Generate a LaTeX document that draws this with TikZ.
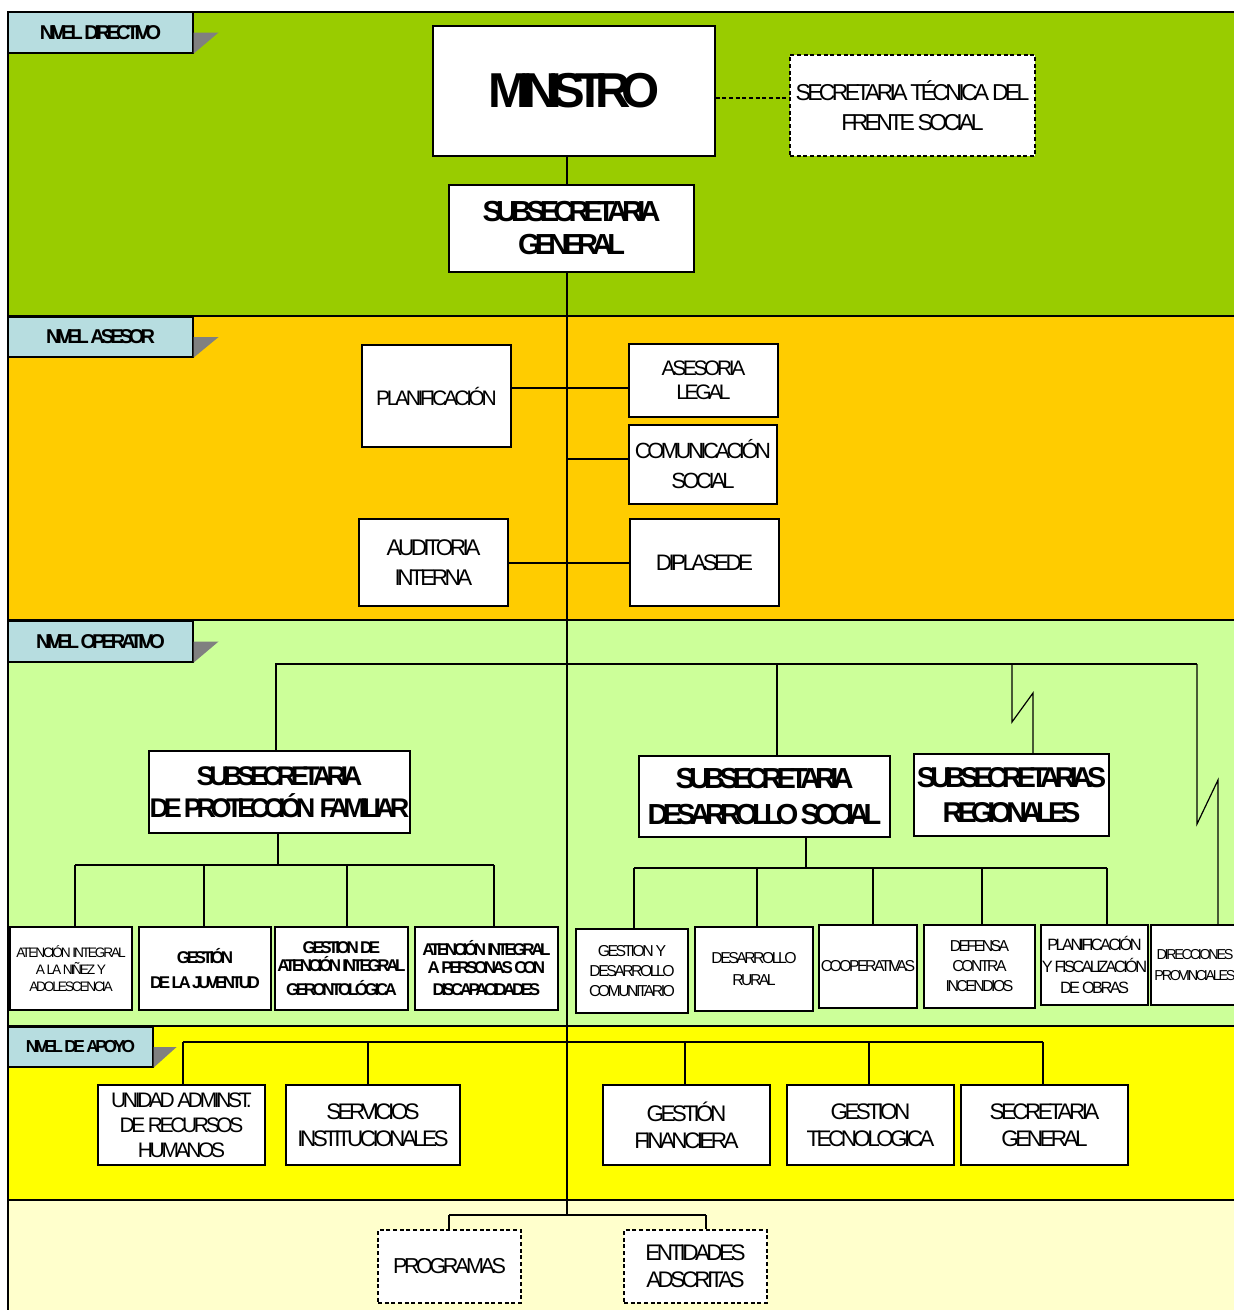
\documentclass[tikz,border=0pt]{standalone}
\usepackage{fontspec}
\setmainfont{Liberation Sans}
\newfontfamily\rf{Liberation Sans}[LetterSpace=-16]
\newfontfamily\bfnt{Liberation Sans}[LetterSpace=-20]
\definecolor{cDir}{HTML}{99CC00}
\definecolor{cAse}{HTML}{FFCC00}
\definecolor{cOpe}{HTML}{CCFF99}
\definecolor{cApo}{HTML}{FFFF00}
\definecolor{cBot}{HTML}{FFFFCC}
\definecolor{cLab}{HTML}{B7DDE0}
\definecolor{cTri}{HTML}{808080}
\newcommand\mkbox[7]{\node[#1, minimum width={(#4-#2)*0.75pt}, minimum height={(#5-#3)*0.75pt}] (#6) at ({(#2+#4)/2},{(#3+#5)/2}) {#7};}
\tikzset{
  band/.style={draw=black, line width=1.3pt},
  box/.style={draw=black, fill=white, line width=0.9pt, inner sep=0pt, align=center},
  dbox/.style={box, dash pattern=on 3pt off 2pt},
  lab/.style={draw=black, fill=cLab, line width=0.9pt, inner sep=0pt, align=center},
  conn/.style={draw=black, line width=0.9pt},
  fs/.style 2 args={font=\fontsize{#1}{#2}\selectfont\rf},
  fb/.style 2 args={font=\fontsize{#1}{#2}\selectfont\bfnt\bfseries},
}
\begin{document}
\begin{tikzpicture}[x=0.75pt,y=-0.75pt]
\useasboundingbox (0,0) rectangle (1234,1310);
\clip (0,0) rectangle (1234,1310);
\fill[white] (0,0) rectangle (1234,1310);
% bands
\fill[cBot] (8,1200) rectangle (1250,1320);
\draw[band] (8,1200) -- (8,1320);
\draw[band, fill=cDir] (8,12) rectangle (1250,316);
\draw[band, fill=cAse] (8,316) rectangle (1250,620);
\draw[band, fill=cOpe] (8,620) rectangle (1250,1026);
\draw[band, fill=cApo] (8,1026) rectangle (1250,1200);
% level labels
\mkbox{lab,fb={15}{18}}{8}{12}{193}{53}{lab1}{NIVEL DIRECTIVO}
\mkbox{lab,fb={15}{18}}{8}{317}{193}{357}{lab2}{NIVEL ASESOR}
\mkbox{lab,fb={15}{18}}{8}{621}{193}{662}{lab3}{NIVEL OPERATIVO}
\mkbox{lab,fb={13}{15}}{8}{1027}{153}{1067}{lab4}{NIVEL DE APOYO}
\fill[cTri] (lab1.east) -- ++(25,0) -- (lab1.south east) -- cycle;
\fill[cTri] (lab2.east) -- ++(25,0) -- (lab2.south east) -- cycle;
\fill[cTri] (lab3.east) -- ++(25,0) -- (lab3.south east) -- cycle;
\fill[cTri] (lab4.east) -- ++(23,0) -- (lab4.south east) -- cycle;
% directivo
\mkbox{box,fb={36.75}{40}}{433}{26}{715}{156}{min}{\raisebox{-3pt}{MINISTRO}}
\mkbox{dbox,fs={17.25}{22.5}}{790}{55}{1035}{156}{sec}{SECRETARIA TÉCNICA DEL\\FRENTE SOCIAL}
\mkbox{box,fb={21.75}{24.75}}{449}{185}{694}{272}{sg}{SUBSECRETARIA\\GENERAL}
% asesor
\mkbox{box,fs={15.75}{19}}{362}{345}{511}{447}{plan}{PLANIFICACIÓN}
\mkbox{box,fs={15.75}{18}}{629}{344}{778}{417}{legal}{ASESORIA\\LEGAL}
\mkbox{box,fs={16.5}{22.5}}{629}{425}{777}{504}{com}{COMUNICACIÓN\\SOCIAL}
\mkbox{box,fs={17}{22}}{359}{519}{508}{606}{aud}{AUDITORIA\\INTERNA}
\mkbox{box,fs={16.8}{20}}{630}{519}{779}{606}{dip}{DIPLASEDE}
% operativo
\mkbox{box,fb={20.25}{24}}{149}{751}{410}{833}{pf}{SUBSECRETARIA\\DE PROTECCIÓN\ \ FAMILIAR}
\mkbox{box,fb={21.75}{27}}{639}{756}{890}{837}{sds}{SUBSECRETARIA\\DESARROLLO SOCIAL}
\mkbox{box,fb={21.5}{26}}{914}{754}{1109}{836}{sr}{SUBSECRETARIAS\\REGIONALES}
\mkbox{box,fs={10.3}{13}}{10}{927}{132}{1010}{a1}{ATENCIÓN INTEGRAL\\A LA NIÑEZ Y\\ADOLESCENCIA}
\mkbox{box,fb={12.75}{18.75}}{139}{927}{271}{1010}{a2}{GESTIÓN\\DE LA JUVENTUD}
\mkbox{box,fb={12.75}{13.5}}{275}{927}{408}{1010}{a3}{GESTION DE\\ATENCIÓN INTEGRAL\\[5pt]GERONTOLÓGICA}
\mkbox{box,fb={12.75}{13.5}}{415}{927}{558}{1010}{a4}{ATENCIÓN INTEGRAL\\A PERSONAS CON\\[3pt]DISCAPACIDADES}
\mkbox{box,fs={11.85}{15}}{576}{929}{688}{1013}{b1}{GESTION Y\\DESARROLLO\\COMUNITARIO}
\mkbox{box,fs={11.85}{16.5}}{695}{927}{813}{1011}{b2}{DESARROLLO\\RURAL}
\mkbox{box,fs={11.85}{15}}{819}{925}{917}{1008}{b3}{COOPERATIVAS}
\mkbox{box,fs={11.85}{15}}{924}{925}{1035}{1008}{b4}{DEFENSA\\CONTRA\\INCENDIOS}
\mkbox{box,fs={12.3}{16}}{1041}{925}{1148}{1005}{b5}{PLANIFICACIÓN\\Y FISCALIZACIÓN\\DE OBRAS}
\mkbox{box,fs={10.8}{15.5}}{1151}{925}{1239}{1005}{b6}{DIRECCIONES\\PROVINCIALES}
% apoyo
\mkbox{box,fs={15.75}{18.75}}{98}{1085}{265}{1165}{c1}{UNIDAD ADMINST.\\DE RECURSOS\\HUMANOS}
\mkbox{box,fs={16.9}{20}}{286}{1085}{460}{1165}{c2}{SERVICIOS\\INSTITUCIONALES}
\mkbox{box,fs={16.9}{20}}{603}{1085}{770}{1165}{c3}{GESTIÓN\\FINANCIERA}
\mkbox{box,fs={16.9}{20}}{787}{1085}{954}{1165}{c4}{GESTION\\TECNOLOGICA}
\mkbox{box,fs={16.9}{20}}{961}{1085}{1128}{1165}{c5}{SECRETARIA\\GENERAL}
% bottom
\mkbox{dbox,fs={16.2}{20}}{378}{1230}{521}{1303}{p1}{PROGRAMAS}
\mkbox{dbox,fs={16.9}{20}}{624}{1230}{767}{1303}{p2}{ENTIDADES\\ADSCRITAS}
% coordinates
\coordinate (spine) at (567,1215);
\coordinate (yA) at (0,388);
\coordinate (yC) at (0,459);
\coordinate (yD) at (0,563);
\coordinate (o1) at (276,664);
\coordinate (o2) at (777,664);
\coordinate (o3) at (1012,664);
\coordinate (o4) at (1197,664);
\coordinate (zz1) at (1012,722);
\coordinate (zz2) at (1033,693);
\coordinate (z1) at (1197,824);
\coordinate (z2) at (1218,780);
\coordinate (p0) at (278,865);
\coordinate (q1) at (75,865);
\coordinate (q2) at (204,865);
\coordinate (q3) at (347,865);
\coordinate (q4) at (494,865);
\coordinate (r0) at (806,868);
\coordinate (r1) at (634,868);
\coordinate (r2) at (757,868);
\coordinate (r3) at (873,868);
\coordinate (r4) at (982,868);
\coordinate (r5) at (1107,868);
\coordinate (s1) at (183,1042);
\coordinate (s2) at (368,1042);
\coordinate (s3) at (685,1042);
\coordinate (s4) at (869,1042);
\coordinate (s5) at (1043,1042);
\coordinate (t1) at (449,1215);
\coordinate (t2) at (706,1215);
% connectors
\draw[conn] (min.south -| spine) -- (sg.north -| spine);
\draw[conn] (sg.south -| spine) -- (spine);
\draw[conn, dash pattern=on 3pt off 2pt] ([yshift=-5.25pt]min.east) coordinate (d1) -- (d1 -| sec.west);
\draw[conn] (plan.east |- yA) -- (legal.west |- yA);
\draw[conn] (spine |- yC) -- (com.west |- yC);
\draw[conn] (aud.east |- yD) -- (dip.west |- yD);
\draw[conn] (pf.north -| o1) -- (o1) -- (o4);
\draw[conn] (o2) -- (sds.north -| o2);
\draw[conn] (o3) -- (zz1) -- (zz2) -- (sr.north -| zz2);
\draw[conn] (o4) -- (z1) -- (z2) -- (b6.north -| z2);
\draw[conn] (pf.south -| p0) -- (p0);
\draw[conn] (q1) -- (q4);
\draw[conn] (q1) -- (a1.north -| q1);
\draw[conn] (q2) -- (a2.north -| q2);
\draw[conn] (q3) -- (a3.north -| q3);
\draw[conn] (q4) -- (a4.north -| q4);
\draw[conn] (sds.south -| r0) -- (r0);
\draw[conn] (r1) -- (r5);
\draw[conn] (r1) -- (b1.north -| r1);
\draw[conn] (r2) -- (b2.north -| r2);
\draw[conn] (r3) -- (b3.north -| r3);
\draw[conn] (r4) -- (b4.north -| r4);
\draw[conn] (r5) -- (b5.north -| r5);
\draw[conn] (s1) -- (s5);
\draw[conn] (s1) -- (c1.north -| s1);
\draw[conn] (s2) -- (c2.north -| s2);
\draw[conn] (s3) -- (c3.north -| s3);
\draw[conn] (s4) -- (c4.north -| s4);
\draw[conn] (s5) -- (c5.north -| s5);
\draw[conn] (t1) -- (t2);
\draw[conn] (t1) -- (p1.north -| t1);
\draw[conn] (t2) -- (p2.north -| t2);
\end{tikzpicture}
\end{document}
